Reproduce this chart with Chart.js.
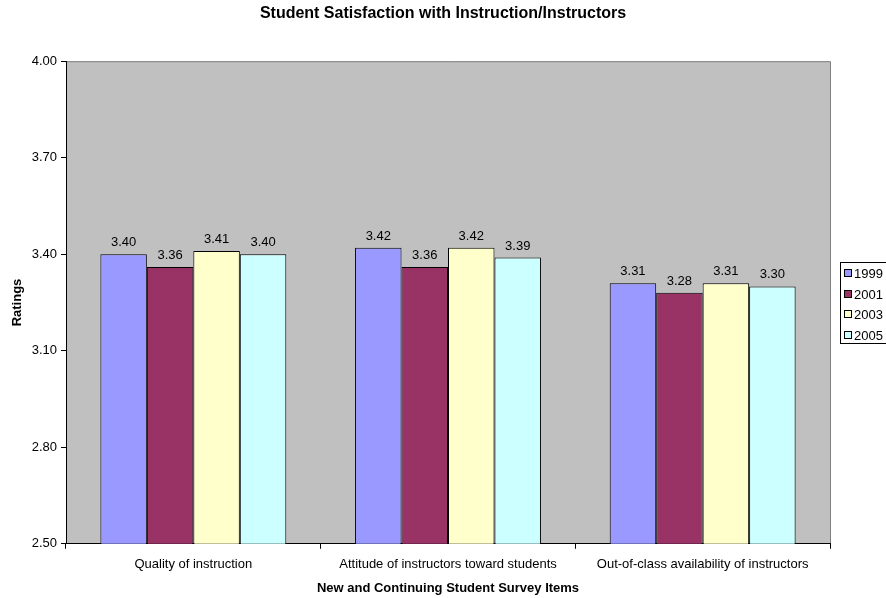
<!DOCTYPE html>
<html>
<head>
<meta charset="utf-8">
<script src="https://cdn.jsdelivr.net/npm/chart.js@4.4.0/dist/chart.umd.min.js"></script>
<style>
  html, body { margin: 0; padding: 0; background: #fff; }
  #wrap { width: 886px; height: 598px; }
</style>
</head>
<body>
<div id="wrap"><canvas id="myChart"></canvas></div>
<script>
const categories = ["Quality of instruction", "Attitude of instructors toward students", "Out-of-class availability of instructors"];
const years = ["1999", "2001", "2003", "2005"];
const values1999 = [3.40, 3.42, 3.31];
const values2001 = [3.36, 3.36, 3.28];
const values2003 = [3.41, 3.42, 3.31];
const values2005 = [3.40, 3.39, 3.30];
const yTicks = [2.5, 2.8, 3.1, 3.4, 3.7, 4.0];

const colors = ["#9999FF", "#993366", "#FFFFCC", "#CCFFFF"];
const allValues = [values1999, values2001, values2003, values2005];

const FONT = "Arial, 'Liberation Sans', sans-serif";
Chart.defaults.font.family = FONT;
Chart.defaults.font.size = 13;
Chart.defaults.color = "#000";

// gray plot area, value labels above bars, framed legend on the right
const excelLook = {
  id: "excelLook",
  beforeDraw(chart) {
    const a = chart.chartArea;
    const c = chart.ctx;
    c.save();
    c.fillStyle = "#C0C0C0";
    c.fillRect(a.left, a.top, a.right - a.left, a.bottom - a.top);
    c.strokeStyle = "#808080";
    c.lineWidth = 1;
    c.beginPath();
    c.moveTo(a.left, a.top + 0.5);
    c.lineTo(a.right + 0.5, a.top + 0.5);
    c.lineTo(a.right + 0.5, a.bottom);
    c.stroke();
    c.restore();
  },
  afterDatasetsDraw(chart) {
    const c = chart.ctx;
    c.save();
    c.font = "13px " + FONT;
    c.fillStyle = "#000";
    c.textAlign = "center";
    c.textBaseline = "bottom";
    chart.data.datasets.forEach((ds, i) => {
      chart.getDatasetMeta(i).data.forEach((bar, j) => {
        c.fillText(ds.data[j].toFixed(2), bar.x, bar.y - 5);
      });
    });

    // legend
    const a = chart.chartArea;
    const left = Math.round(a.right) + 10;
    const top = 262;
    const rowH = 20.5;
    c.strokeStyle = "#000";
    c.lineWidth = 1;
    c.strokeRect(left + 0.5, top + 0.5, chart.width - left + 5, 81);
    c.textAlign = "left";
    c.textBaseline = "middle";
    chart.data.datasets.forEach((ds, i) => {
      const cy = Math.round(top + 11 + i * rowH);
      c.fillStyle = ds.backgroundColor;
      c.fillRect(left + 4, cy - 4, 8, 8);
      c.strokeRect(left + 4.5, cy - 3.5, 7, 7);
      c.fillStyle = "#000";
      c.fillText(ds.label, left + 14, cy + 1);
    });
    c.restore();
  }
};

const ctx = document.querySelector("#myChart");

const myChart = new Chart(ctx, {
  type: "bar",
  data: {
    labels: categories,
    datasets: years.map((y, i) => ({
      label: y,
      data: allValues[i],
      backgroundColor: colors[i],
      borderColor: "#000",
      borderWidth: 1,
      borderSkipped: false,
      barPercentage: 1,
      categoryPercentage: 0.73,
    })),
  },
  options: {
    responsive: true,
    maintainAspectRatio: false,
    animation: { duration: 0 },
    layout: { padding: { top: 0, right: 0, bottom: 2, left: 0 } },
    plugins: {
      title: {
        display: true,
        text: "Student Satisfaction with Instruction/Instructors",
        font: { size: 16, weight: "bold" },
        padding: { top: 4, bottom: 38 },
      },
      legend: { display: false },
      tooltip: { enabled: false },
    },
    scales: {
      x: {
        grid: { drawOnChartArea: false, color: "#000", tickLength: 5, offset: true },
        border: { color: "#000" },
        ticks: { padding: 8, maxRotation: 0 },
        title: {
          display: true,
          text: "New and Continuing Student Survey Items",
          font: { size: 13, weight: "bold" },
          padding: { top: 0, bottom: 0 },
        },
      },
      y: {
        min: 2.5,
        max: 4.0,
        afterBuildTicks(axis) {
          axis.ticks = yTicks.map((v) => ({ value: v }));
        },
        afterFit(axis) {
          axis.width = 66;
        },
        grid: { drawOnChartArea: false, color: "#000", tickLength: 5 },
        border: { color: "#000" },
        ticks: {
          padding: 4,
          callback: (v) => Number(v).toFixed(2),
        },
        title: {
          display: true,
          text: "Ratings",
          font: { size: 13, weight: "bold" },
          padding: { top: 10, bottom: 4 },
        },
      },
      // empty axis that only keeps room for the legend
      legendSpace: {
        position: "right",
        display: true,
        grid: { display: false },
        border: { display: false },
        ticks: { display: false },
        afterFit(axis) {
          axis.width = 56;
        },
      },
    },
  },
  plugins: [excelLook],
});
</script>
</body>
</html>
